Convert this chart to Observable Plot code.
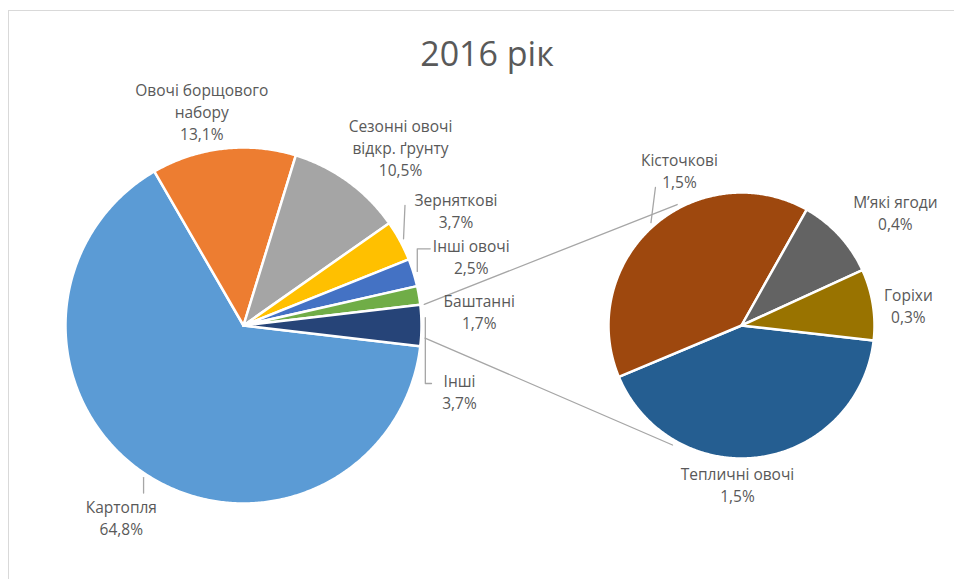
<!DOCTYPE html>
<html>
<head>
<meta charset="utf-8">
<script src="https://cdn.jsdelivr.net/npm/d3@7"></script>
<script src="https://cdn.jsdelivr.net/npm/@observablehq/plot@0.6"></script>
<style>
  html, body { margin: 0; padding: 0; background: #fff; overflow: hidden; }
  body { position: relative; width: 954px; height: 579px; font-family: "Open Sans", sans-serif; }
  #frame { position: absolute; left: 8px; top: 10px; width: 2000px; height: 2000px;
           border-top: 1px solid #d9d9d9; border-left: 1px solid #d9d9d9; }
  #title { position: absolute; left: 0; top: 33px; width: 974px; text-align: center;
           font-size: 34px; line-height: 40px; color: #595959; font-family: "Open Sans", sans-serif; }
  #chart { position: absolute; left: 9px; top: 74px; }
</style>
</head>
<body>
<div id="frame"></div>
<div id="title">2016 рік</div>
<div id="chart"></div>
<script>
// ---------- data ----------
const mainNames  = ["Картопля", "Овочі борщового набору", "Сезонні овочі відкр. ґрунту", "Зерняткові", "Інші овочі", "Баштанні", "Інші"];
const mainValues = [64.8, 13.1, 10.5, 3.7, 2.5, 1.7, 3.7];
const mainLabels = ["Картопля\n64,8%", "Овочі борщового\nнабору\n13,1%", "Сезонні овочі\nвідкр. ґрунту\n10,5%", "Зерняткові\n3,7%", "Інші овочі\n2,5%", "Баштанні\n1,7%", "Інші\n3,7%"];
const subNames   = ["Тепличні овочі", "Кісточкові", "М’які ягоди", "Горіхи"];
const subValues  = [1.55, 1.46, 0.37, 0.32];
const subLabels  = ["Тепличні овочі\n1,5%", "Кісточкові\n1,5%", "М’які ягоди\n0,4%", "Горіхи\n0,3%"];
const mainColors = ["#5B9BD5", "#ED7D31", "#A5A5A5", "#FFC000", "#4472C4", "#70AD47", "#264478"];
const subColors  = ["#255E91", "#9E480E", "#636363", "#997300"];

// ---------- layout ----------
const W = 945, H = 505, OX = 9, OY = 74;          // svg placement on page
const C1 = {x: 243, y: 325, r: 178};                // primary pie
const C2 = {x: 741, y: 325, r: 133};                // secondary pie
const subStart = 96.5;                              // degrees, clockwise from 12 o'clock
const mainTotal = d3.sum(mainValues);
const mainStart = 90 + (mainValues[mainValues.length - 1] / mainTotal) * 180; // aggregate slice centred at 3 o'clock
const labelR1 = 228, labelR2 = 168;
const mainNudge = [[3, 1], [-16, 12], [23, 5.5], [12, -6.6], [10, -2], [11, 24], [-12, 65]];
const subNudge  = [[-27.7, -7.8], [49.6, -30.5], [30.3, -0.2], [1, 6.4]];

const rad = a => a * Math.PI / 180;
const polar = (c, r, a) => ({x: c.x + r * Math.sin(rad(a)), y: c.y - r * Math.cos(rad(a))});

function slices(values, names, start, c) {
  const total = d3.sum(values);
  let a = start;
  return values.map((v, i) => {
    const a0 = a, a1 = a + v / total * 360;
    a = a1;
    return {name: names[i], a0, a1, mid: (a0 + a1) / 2, c};
  });
}
const S1 = slices(mainValues, mainNames, mainStart, C1);
const S2 = slices(subValues, subNames, subStart, C2);

// polygon points for every slice
const poly = [];
for (const s of [...S1, ...S2]) {
  poly.push({name: s.name, x: s.c.x, y: s.c.y});
  const n = Math.max(2, Math.ceil((s.a1 - s.a0) / 0.5));
  for (let k = 0; k <= n; k++) {
    const p = polar(s.c, s.c.r, s.a0 + (s.a1 - s.a0) * k / n);
    poly.push({name: s.name, x: p.x, y: p.y});
  }
  poly.push({name: s.name, x: s.c.x, y: s.c.y});
}

// labels
const labels = [
  ...S1.map((s, i) => { const p = polar(C1, labelR1, s.mid); return {x: p.x + mainNudge[i][0], y: p.y + mainNudge[i][1], text: mainLabels[i]}; }),
  ...S2.map((s, i) => { const p = polar(C2, labelR2, s.mid); return {x: p.x + subNudge[i][0], y: p.y + subNudge[i][1], text: subLabels[i]}; })
];
const L = labels;

// leader lines
const lead = [];
const addLead = (id, pts) => pts.forEach(p => lead.push({id, x: p.x, y: p.y}));
{
  let s = polar(C1, C1.r + 4, S1[0].mid);              // Картопля
  addLead("k", [s, {x: s.x, y: L[0].y - 24}]);
  s = polar(C1, C1.r + 4, S1[3].mid);                  // Зерняткові
  addLead("z", [s, {x: L[3].x - 51, y: L[3].y - 5}]);
  s = polar(C1, C1.r + 4, S1[4].mid);                  // Інші овочі
  addLead("io", [s, {x: s.x, y: L[4].y - 7}, {x: L[4].x - 41, y: L[4].y - 7}]);
  s = polar(C1, C1.r + 4, S1[6].mid - 2.5);            // Інші
  addLead("i", [s, {x: s.x, y: L[6].y - 7}, {x: L[6].x - 28, y: L[6].y - 7}]);
  s = polar(C2, C2.r + 4, S2[1].mid + 0.3);            // Кісточкові
  addLead("ks", [s, {x: L[8].x - 24, y: L[8].y + 18}]);
}

// connector lines between the pies
const agg = S1[S1.length - 1];
const conn = [];
[[polar(C1, C1.r + 4, agg.a0), polar(C2, C2.r + 4, 332)],
 [polar(C1, C1.r + 4, agg.a1 - 2.7), polar(C2, C2.r + 5, 210)]].forEach((pair, i) =>
  pair.forEach(p => conn.push({id: i, x: p.x, y: p.y})));

const chart = Plot.plot({
  width: W, height: H,
  margin: 0,
  x: {domain: [OX, OX + W], range: [0, W], axis: null},
  y: {domain: [OY, OY + H], range: [0, H], axis: null},
  color: {domain: [...mainNames, ...subNames], range: [...mainColors, ...subColors]},
  style: {background: "transparent", overflow: "visible"},
  marks: [
    Plot.line(conn, {x: "x", y: "y", z: "id", stroke: "#A6A6A6", strokeWidth: 1.3}),
    Plot.line(poly, {x: "x", y: "y", z: "name", fill: "name", stroke: "white", strokeWidth: 2.5, strokeLinejoin: "round", curve: "linear"}),
    Plot.line(lead, {x: "x", y: "y", z: "id", stroke: "#A6A6A6", strokeWidth: 1.3}),
    Plot.text(L, {x: "x", y: "y", text: "text", fontSize: 15.5, lineHeight: 1.42, fill: "#595959",
                  fontFamily: "Open Sans, sans-serif"})
  ]
});
document.getElementById("chart").appendChild(chart);
</script>
</body>
</html>
